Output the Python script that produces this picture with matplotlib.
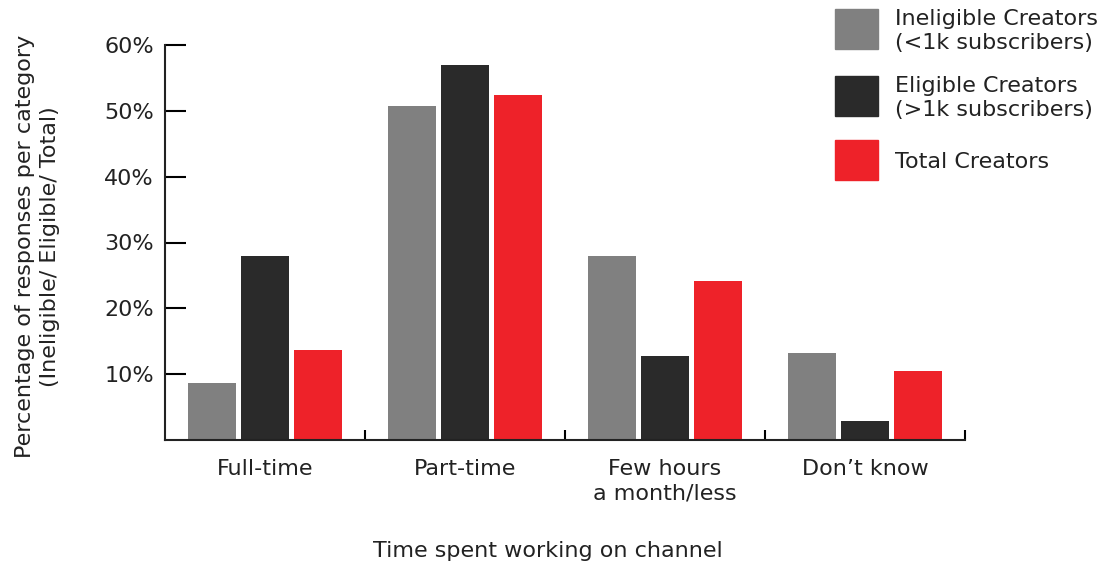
import numpy as np
import matplotlib.pyplot as plt
from matplotlib.patches import Rectangle

categories = ['Full-time', 'Part-time', 'Few hours\na month/less', 'Don\u2019t know']
ineligible = [8.6, 50.8, 28.0, 13.2]
eligible = [27.9, 57.0, 12.7, 2.9]
total = [13.6, 52.4, 24.1, 10.5]
series_names = ['Ineligible Creators\n(<1k subscribers)',
                'Eligible Creators\n(>1k subscribers)',
                'Total Creators']
colors = ['#808080', '#2a2a2a', '#ee2229']

plt.rcParams['font.family'] = ['DejaVu Sans']
W, H = 1109, 569
fig = plt.figure(figsize=(W/100, H/100), dpi=100)
ax = fig.add_axes([165/W, 1-440/H, 800/W, 395/H])

x = np.arange(len(categories))
w = 0.24
off = 0.265
for i, vals in enumerate([ineligible, eligible, total]):
    ax.bar(x + (i-1)*off, vals, w, color=colors[i])

fs = 16
tc = '#222222'
ax.set_xlim(-0.5, 3.5)
ax.set_ylim(0, 60)
ax.set_yticks([10, 20, 30, 40, 50, 60])
ax.set_yticklabels(['10%', '20%', '30%', '40%', '50%', '60%'], fontsize=fs, color=tc)
ax.tick_params(axis='y', direction='in', length=15, width=1.5, pad=8)
ax.set_xticks([0.5, 1.5, 2.5, 3.5])
ax.set_xticklabels([])
ax.set_xticks(x, minor=True)
ax.set_xticklabels(categories, minor=True, fontsize=fs, color=tc, va='top', linespacing=1.25)
ax.tick_params(axis='x', which='major', direction='in', length=7, width=1.5)
ax.tick_params(axis='x', which='minor', length=0, pad=14)
for s in ['top', 'right']:
    ax.spines[s].set_visible(False)
for s in ['left', 'bottom']:
    ax.spines[s].set_linewidth(1.5)
    ax.spines[s].set_color(tc)

ax.set_xlabel('Time spent working on channel', fontsize=fs, color=tc)
ax.xaxis.set_label_coords((548-165)/800, -(541-440)/395)
ax.set_ylabel('Percentage of responses per category\n(Ineligible/ Eligible/ Total)',
              fontsize=fs, color=tc, linespacing=1.3)
ax.yaxis.set_label_coords(-(165-60)/800, 0.49)

# legend drawn as swatches + text at the top right
sq_tops = [9, 76, 140]
for c, name, t in zip(colors, series_names, sq_tops):
    fig.patches.append(Rectangle((835/W, 1-(t+40)/H), 43/W, 40/H,
                                 transform=fig.transFigure, color=c))
    fig.text(895/W, 1-(t+22)/H, name, fontsize=fs, color=tc, va='center',
             ha='left', linespacing=1.2)

fig.savefig('out.png', dpi=100)
